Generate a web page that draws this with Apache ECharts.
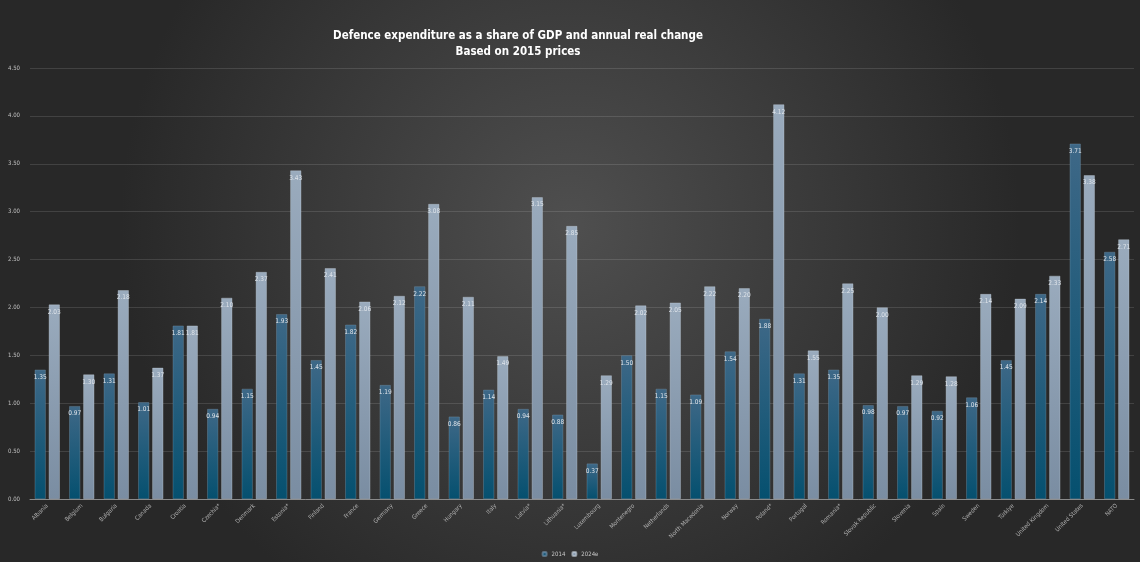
<!DOCTYPE html>
<html>
<head>
<meta charset="utf-8">
<style>
  html, body { margin: 0; padding: 0; background: #333; }
  #main { width: 1140px; height: 562px; }
</style>
<script src="https://cdn.jsdelivr.net/npm/echarts@6/dist/echarts.min.js"></script>
</head>
<body>
<div id="main"></div>
<script>
// categories and values
var countries = ['Albania', 'Belgium', 'Bulgaria', 'Canada', 'Croatia', 'Czechia*', 'Denmark', 'Estonia*',
    'Finland', 'France', 'Germany', 'Greece', 'Hungary', 'Italy', 'Latvia*', 'Lithuania*', 'Luxembourg',
    'Montenegro', 'Netherlands', 'North Macedonia', 'Norway', 'Poland*', 'Portugal', 'Romania*',
    'Slovak Republic', 'Slovenia', 'Spain', 'Sweden', 'Türkiye', 'United Kingdom', 'United States', 'NATO'];
var values2014 = [1.35, 0.97, 1.31, 1.01, 1.81, 0.94, 1.15, 1.93, 1.45, 1.82, 1.19, 2.22, 0.86, 1.14, 0.94, 0.88,
    0.37, 1.50, 1.15, 1.09, 1.54, 1.88, 1.31, 1.35, 0.98, 0.97, 0.92, 1.06, 1.45, 2.14, 3.71, 2.58];
var values2024 = [2.03, 1.30, 2.18, 1.37, 1.81, 2.10, 2.37, 3.43, 2.41, 2.06, 2.12, 3.08, 2.11, 1.49, 3.15, 2.85,
    1.29, 2.02, 2.05, 2.22, 2.20, 4.12, 1.55, 2.25, 2.00, 1.29, 1.28, 2.14, 2.09, 2.33, 3.38, 2.71];
var seriesNames = ['2014', '2024e'];

var font = '"DejaVu Sans Condensed", "Liberation Sans", sans-serif';

var myChart = echarts.init(document.getElementById('main'));

var labelOpt = {
    show: true,
    position: 'insideTop',
    distance: 4,
    color: '#dfe4ea',
    fontSize: 6.5,
    fontFamily: font,
    formatter: function (p) { return p.value.toFixed(2); }
};

var option = {
    backgroundColor: new echarts.graphic.RadialGradient(0.5, 0.4, 0.8, [
        { offset: 0, color: '#4f4f4f' },
        { offset: 1, color: '#282828' }
    ]),
    animation: false,
    title: {
        text: 'Defence expenditure as a share of GDP and annual real change\nBased on 2015 prices',
        left: 513,
        top: 23,
        textAlign: 'center',
        textStyle: {
            color: '#ffffff',
            fontSize: 11.5,
            fontWeight: 'bold',
            fontFamily: font,
            lineHeight: 16
        }
    },
    legend: {
        bottom: 0,
        left: 'center',
        itemWidth: 4,
        itemHeight: 4,
        itemGap: 6,
        textStyle: { color: '#c8c8c8', fontSize: 6, fontFamily: font },
        data: seriesNames
    },
    grid: {
        left: 30,
        right: 6,
        top: 68,
        bottom: 63,
        containLabel: false
    },
    xAxis: {
        type: 'category',
        data: countries,
        axisLine: { lineStyle: { color: '#8a8a8a', width: 1 } },
        axisTick: { show: false },
        axisLabel: {
            rotate: 45,
            interval: 0,
            color: '#b0b0b0',
            fontSize: 6,
            fontFamily: font,
            margin: 6
        }
    },
    yAxis: {
        type: 'value',
        min: 0,
        max: 4.5,
        interval: 0.5,
        axisLine: { show: false },
        axisTick: { show: false },
        axisLabel: {
            color: '#c0c0c0',
            fontSize: 6,
            fontFamily: font,
            margin: 10,
            formatter: function (v) { return v.toFixed(2); }
        },
        splitLine: { lineStyle: { color: 'rgba(255,255,255,0.12)', width: 1 } }
    },
    series: [{
        name: seriesNames[0],
        type: 'bar',
        data: values2014,
        barWidth: 11,
        barGap: '28%',
        itemStyle: {
            color: new echarts.graphic.LinearGradient(0, 0, 0, 1, [
                { offset: 0, color: '#3e6887' },
                { offset: 1, color: '#05506f' }
            ]),
            borderColor: 'rgba(120,150,175,0.6)',
            borderWidth: 0.6
        },
        label: labelOpt
    }, {
        name: seriesNames[1],
        type: 'bar',
        data: values2024,
        barWidth: 11,
        itemStyle: {
            color: new echarts.graphic.LinearGradient(0, 0, 0, 1, [
                { offset: 0, color: '#9aabbd' },
                { offset: 1, color: '#7a8da2' }
            ]),
            borderColor: 'rgba(200,210,220,0.6)',
            borderWidth: 0.6
        },
        label: labelOpt
    }]
};

myChart.setOption(option);
window.addEventListener('resize', function () {
    myChart.resize();
});
</script>
</body>
</html>
